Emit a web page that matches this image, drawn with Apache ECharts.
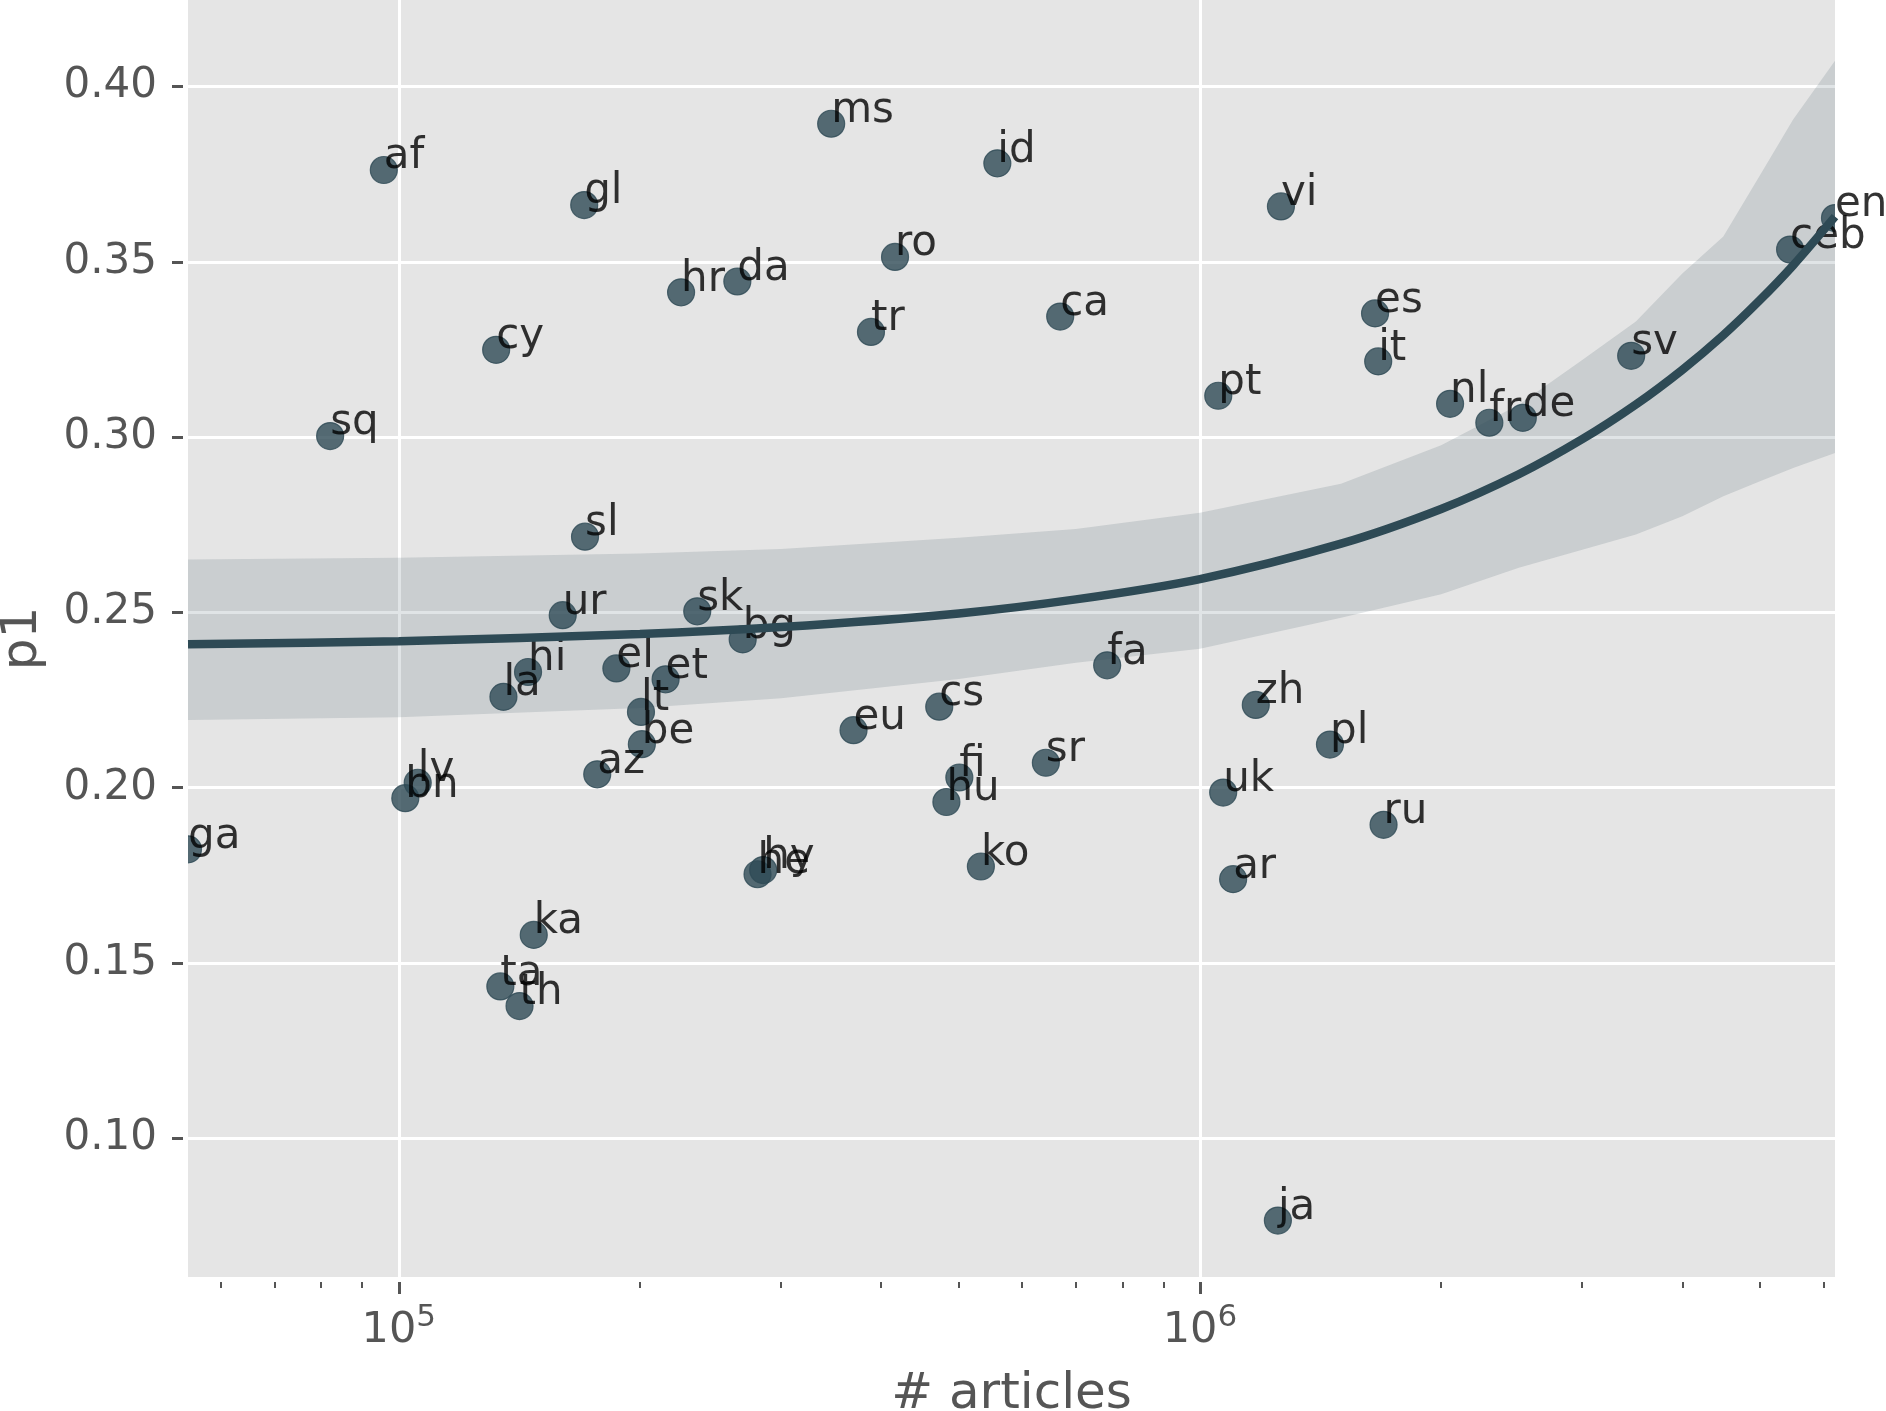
<!DOCTYPE html>
<html><head><meta charset="utf-8">
<script src="https://cdn.jsdelivr.net/npm/echarts@6/dist/echarts.min.js"></script>
<style>html,body{margin:0;padding:0;background:#fff}#c{width:1886px;height:1411px}</style>
</head><body><div id="c"></div>
<script>
// ---- data ----
const langs = ['af','gl','hr','cy','sq','sl','ur','hi','la','el','et','lt','be','az','lv','bn','ga','ka','ta','th','ms','id','vi','ro','da','tr','ca','pt','sk','bg','fa','cs','eu','zh','pl','fi','hu','sr','uk','he','hy','ko','ar','ja','es','it','nl','fr','de','sv','ceb','en','ru'];
const articles = [95800,170400,225100,132300,82100,170800,160200,145000,135100,186900,215300,200600,201100,176900,105600,101900,54570,147400,133900,141500,346500,558600,1262000,416300,264600,388500,669200,1054000,235800,268700,765900,472700,369500,1174000,1453000,500800,482500,642200,1069000,280400,285000,532800,1100000,1251000,1654000,1669000,2052000,2297000,2529000,3453000,5452000,6203000,1695000];
const p1 = [0.3762,0.3662,0.3413,0.3249,0.3003,0.2716,0.2492,0.2330,0.2259,0.2340,0.2309,0.2216,0.2124,0.2038,0.2014,0.1970,0.1824,0.1580,0.1433,0.1377,0.3894,0.3781,0.3658,0.3514,0.3444,0.3300,0.3344,0.3118,0.2503,0.2423,0.2349,0.2231,0.2164,0.2236,0.2123,0.2029,0.1959,0.2071,0.1986,0.1753,0.1765,0.1775,0.1739,0.0765,0.3353,0.3216,0.3095,0.3041,0.3055,0.3232,0.3535,0.3625,0.1894];

// regression line and confidence band, read at sample positions
const fitX   = [54570,100000,200000,300000,500000,700000,1000000,1500000,2000000,2500000,3000000,3500000,4000000,4500000,5000000,5500000,6203000];
const fitY   = [0.2409,0.2418,0.2438,0.2458,0.2497,0.2537,0.2595,0.2696,0.2795,0.2894,0.2994,0.3093,0.3192,0.3291,0.3391,0.3490,0.3629];
const ciLow  = [0.2193,0.2201,0.2227,0.2255,0.2310,0.2356,0.2396,0.2485,0.2552,0.2627,0.2679,0.2722,0.2774,0.2831,0.2874,0.2912,0.2955];
const ciHigh = [0.2651,0.2656,0.2668,0.2681,0.2713,0.2738,0.2784,0.2867,0.2977,0.3092,0.3220,0.3330,0.3467,0.3572,0.3747,0.3906,0.4074];

const yTicks = [0.10,0.15,0.20,0.25,0.30,0.35,0.40];
const xMajorTicks = [1e5,1e6];
const xMinorTicks = [6e4,7e4,8e4,9e4,2e5,3e5,4e5,5e5,6e5,7e5,8e5,9e5,2e6,3e6,4e6,5e6,6e6];
const xMin = 54570, xMax = 6203000, yMin = 0.0604, yMax = 0.4247;

// ---- chart ----
const FONT = 'DejaVu Sans';
const LINE = '#2e4a55';
const chart = echarts.init(document.getElementById('c'), null, {renderer:'canvas'});
const points = articles.map((a,i)=>[a, p1[i]]);

const option = {
  animation:false,
  backgroundColor:'#ffffff',
  grid:{left:188, top:0, width:1647, height:1277, show:true, backgroundColor:'#e5e5e5', borderWidth:0,
        containLabel:false, outerBoundsMode:'none'},
  xAxis:[{
    type:'log', logBase:10, min:xMin, max:xMax, position:'bottom', offset:5,
    axisLine:{show:false},
    axisTick:{show:true, length:12, customValues:xMajorTicks, lineStyle:{color:'#555', width:3}},
    axisLabel:{customValues:xMajorTicks, margin:20,
      formatter: v => '{a|10}{b|' + Math.round(Math.log10(v)) + '}',
      rich:{
        a:{fontSize:43, lineHeight:57, fontFamily:FONT, color:'#555'},
        b:{fontSize:31, lineHeight:31, verticalAlign:'top', fontFamily:FONT, color:'#555'}
      }},
    splitLine:{show:true, lineStyle:{color:'#ffffff', width:3}},
    minorTick:{show:false}, minorSplitLine:{show:false},
    name:'# articles', nameLocation:'middle', nameGap:88,
    nameTextStyle:{fontSize:50, fontFamily:FONT, color:'#555'}
  },{
    type:'log', logBase:10, min:xMin, max:xMax, position:'bottom', offset:5,
    axisLine:{show:false}, axisLabel:{show:false}, splitLine:{show:false},
    axisTick:{show:true, length:6, customValues:xMinorTicks, lineStyle:{color:'#555', width:2}}
  }],
  yAxis:{
    type:'value', min:yMin, max:yMax, splitNumber:7, position:'left', offset:5,
    axisLine:{show:false},
    axisTick:{show:true, length:11, customValues:yTicks, lineStyle:{color:'#555', width:3}},
    axisLabel:{customValues:yTicks, margin:26, formatter: v => v.toFixed(2),
      fontSize:42, fontFamily:FONT, color:'#555'},
    splitLine:{show:true, lineStyle:{color:'#ffffff', width:3}},
    name:'p1', nameLocation:'middle', nameGap:135,
    nameTextStyle:{fontSize:50, fontFamily:FONT, color:'#555'}
  },
  series:[
    { // markers (clipped to the plot area)
      type:'custom', clip:true, silent:true, xAxisIndex:0, yAxisIndex:0,
      data:points, encode:{x:0, y:1},
      renderItem:(params, api) => {
        const c = api.coord([api.value(0), api.value(1)]);
        return {type:'circle', shape:{cx:c[0], cy:c[1], r:13.5},
          style:{fill:'rgba(46,74,85,0.8)', stroke:'rgba(46,74,85,0.8)', lineWidth:1.2}};
      }
    },
    { // confidence band
      type:'custom', clip:true, silent:true, xAxisIndex:0, yAxisIndex:0,
      data:[[fitX[0], fitY[0]]], encode:{x:0, y:1},
      renderItem:(params, api) => {
        const pts = [];
        for (let i = 0; i < fitX.length; i++) pts.push(api.coord([fitX[i], ciHigh[i]]));
        for (let i = fitX.length - 1; i >= 0; i--) pts.push(api.coord([fitX[i], ciLow[i]]));
        return {type:'polygon', shape:{points:pts}, style:{fill:'rgba(46,74,85,0.15)'}};
      }
    },
    { // regression line
      type:'line', xAxisIndex:0, yAxisIndex:0, clip:true, silent:true,
      data:fitX.map((x,i)=>[x, fitY[i]]), symbol:'none', smooth:0.3,
      lineStyle:{color:LINE, width:8.5}
    },
    { // text annotations
      type:'scatter', xAxisIndex:0, yAxisIndex:0, clip:false, silent:true,
      data:points, symbolSize:28, itemStyle:{color:'rgba(0,0,0,0)'},
      label:{show:true, formatter:p => langs[p.dataIndex], position:[14,14],
        align:'left', verticalAlign:'middle', offset:[0,-12.5],
        fontSize:42, fontFamily:FONT, color:'#000'}
    }
  ]
};
chart.setOption(option);
</script>
</body></html>
